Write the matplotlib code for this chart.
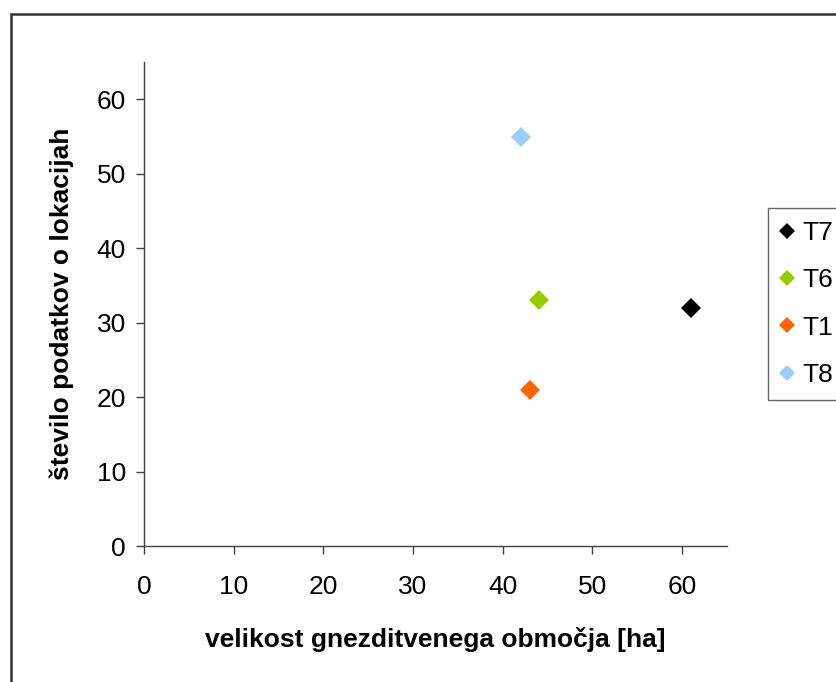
import matplotlib.pyplot as plt
from matplotlib.patches import Rectangle

plt.rcParams['font.family'] = ['Liberation Sans', 'DejaVu Sans']

# territories: nesting area size [ha] vs. number of location records
names = ['T7', 'T6', 'T1', 'T8']
area_ha = [61, 44, 43, 42]
n_records = [32, 33, 21, 55]
colors = ['#000000', '#99CC00', '#FF6600', '#99CCFF']

fig = plt.figure(figsize=(8.36, 6.82), dpi=100)
ax = fig.add_axes([0.1722, 0.1994, 0.6974, 0.7096])

for name, x, y, c in zip(names, area_ha, n_records, colors):
    ax.plot(x, y, linestyle='none', marker='D', markersize=10,
            color=c, markeredgewidth=0, label=name)

ax.set_xlim(0, 65)
ax.set_ylim(0, 65)
ax.set_xticks(range(0, 61, 10))
ax.set_yticks(range(0, 61, 10))
ax.tick_params(labelsize=19, length=6, width=1, color='#404040')
ax.tick_params(axis='x', pad=15)
ax.tick_params(axis='y', pad=7)

for side in ['top', 'right']:
    ax.spines[side].set_visible(False)
for side in ['left', 'bottom']:
    ax.spines[side].set_color('#404040')
    ax.spines[side].set_linewidth(1)

ax.set_xlabel('velikost gnezditvenega območja [ha]', fontsize=19,
              fontweight='bold', labelpad=20)
ax.set_ylabel('število podatkov o lokacijah', fontsize=19,
              fontweight='bold', labelpad=16)

leg = ax.legend(loc='upper left', bbox_to_anchor=(768 / 836, 1 - 208 / 682),
                bbox_transform=fig.transFigure, fontsize=19, frameon=True,
                fancybox=False, edgecolor='#404040', markerscale=0.8,
                handlelength=0.45, handletextpad=0.35, labelspacing=0.88,
                borderpad=0.5, borderaxespad=0)
leg.get_frame().set_linewidth(1)

# outer chart frame
fig.patches.append(Rectangle((11 / 836, -0.1), 1.2, (682 - 14) / 682 + 0.1,
                             transform=fig.transFigure, fill=False,
                             edgecolor='#333333', linewidth=1.8))

fig.savefig('out.png', dpi=100)
